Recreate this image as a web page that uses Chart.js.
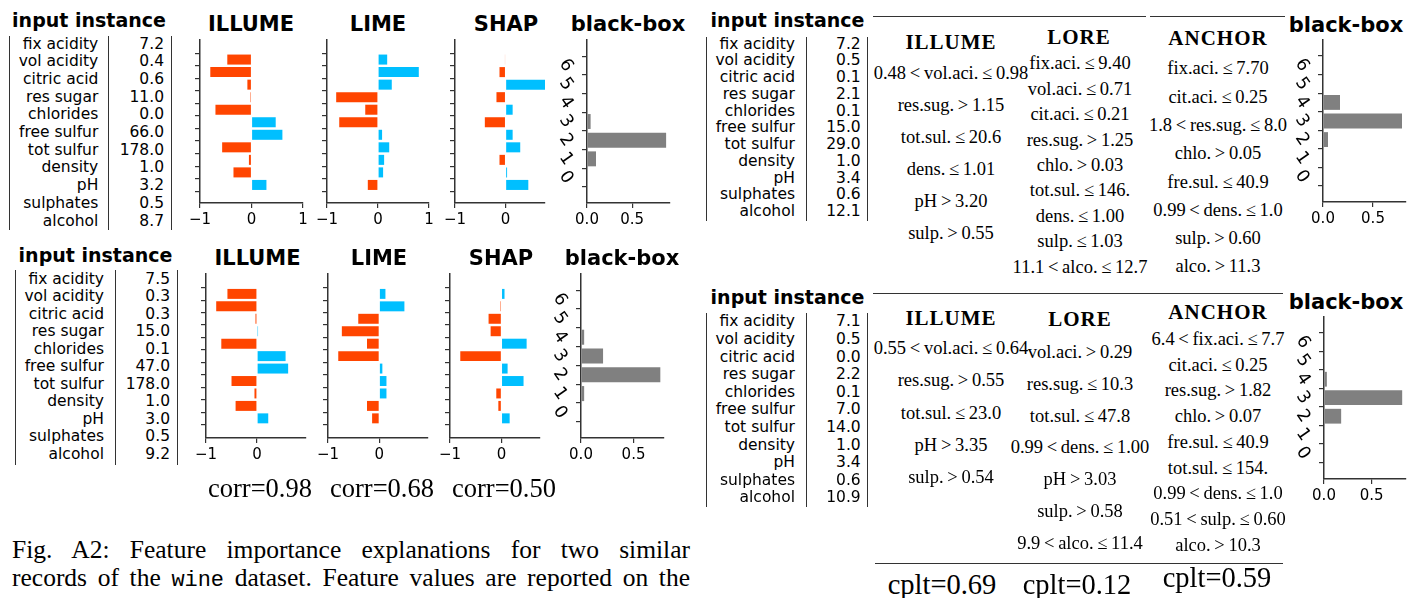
<!DOCTYPE html>
<html><head><meta charset="utf-8">
<script src="https://cdn.jsdelivr.net/npm/chart.js@4.4.1/dist/chart.umd.min.js"></script>
<style>
html,body{margin:0;padding:0;background:#fff;}
#fig{position:relative;width:1408px;height:598px;overflow:hidden;background:#fff;}
.t{position:absolute;white-space:nowrap;line-height:1;}
.c{transform:translate(-50%,-50%);}
.rt{transform:translate(-100%,-50%);}
.lt{transform:translate(0,-50%);}
.sans{font-family:'DejaVu Sans',sans-serif;color:#000;}
.title{font-weight:bold;font-size:21px;}
.itit{font-weight:bold;font-size:19px;}
.cell{font-size:15.5px;}
.serif{font-family:'Liberation Serif','Times New Roman',serif;color:#000;}
.rule{font-size:18.5px;}
.hdr{font-weight:bold;font-size:21px;letter-spacing:1px;}
.score{font-size:26.5px;}
.cpl{font-size:28.5px;}
.r{margin:0 0.2em;}
.cap{font-size:25.5px;width:678px;text-align:justify;text-align-last:justify;white-space:normal;}
.mono{font-family:'Liberation Mono',monospace;font-size:0.86em;}
.vl{position:absolute;width:0;border-left:1.6px solid #333;}
.hl{position:absolute;height:0;border-top:1.5px solid #333;}
canvas{position:absolute;}
</style></head>
<body><div id="fig"></div>
<script>
// ---------------- data ----------------
const features = ['fix acidity','vol acidity','citric acid','res sugar','chlorides','free sulfur','tot sulfur','density','pH','sulphates','alcohol'];
const instanceA = ['7.2','0.4','0.6','11.0','0.0','66.0','178.0','1.0','3.2','0.5','8.7'];
const instanceB = ['7.5','0.3','0.3','15.0','0.1','47.0','178.0','1.0','3.0','0.5','9.2'];
const instanceC = ['7.2','0.5','0.1','2.1','0.1','15.0','29.0','1.0','3.4','0.6','12.1'];
const instanceD = ['7.1','0.5','0.0','2.2','0.1','7.0','14.0','1.0','3.4','0.6','10.9'];

const illumeA = [-0.47,-0.80,-0.08,-0.02,-0.70,0.47,0.60,-0.57,-0.05,-0.35,0.29];
const limeA   = [0.18,0.80,0.27,-0.82,-0.25,-0.76,0.08,0.22,0.12,0.10,-0.20];
const shapA   = [-0.01,-0.12,0.78,-0.18,0.14,-0.41,0.14,0.29,-0.12,0.03,0.45];
const illumeB = [-0.58,-0.80,-0.03,0.02,-0.70,0.56,0.61,-0.50,-0.05,-0.42,0.22];
const limeB   = [0.12,0.49,-0.41,-0.73,-0.24,-0.80,0.06,0.14,0.14,-0.24,-0.14];
const shapB   = [0.06,-0.02,-0.25,-0.21,0.49,-0.80,0.12,0.43,-0.10,-0.06,0.16];

const classes = [0,1,2,3,4,5,6];
const bbA = [0,0.10,0.877,0.04,0,0,0];
const bbB = [0,0.03,0.755,0.21,0.03,0,0];
const bbC = [0,0,0.05,0.79,0.17,0,0];
const bbD = [0,0,0.18,0.82,0.03,0,0];

const featTicks = [-1,0,1];
const bbTicks = [0,0.5];
const fiMethods = ['ILLUME','LIME','SHAP','black-box'];
const ruleMethods = ['ILLUME','LORE','ANCHOR'];
const corrLabels = ['corr=0.98','corr=0.68','corr=0.50'];
const cpltLabels = ['cplt=0.69','cplt=0.12','cplt=0.59'];

const illumeRulesC = ['0.48<vol.aci.≤0.98','res.sug.>1.15','tot.sul.≤20.6','dens.≤1.01','pH>3.20','sulp.>0.55'];
const loreRulesC   = ['fix.aci.≤9.40','vol.aci.≤0.71','cit.aci.≤0.21','res.sug.>1.25','chlo.>0.03','tot.sul.≤146.','dens.≤1.00','sulp.≤1.03','11.1<alco.≤12.7'];
const anchorRulesC = ['fix.aci.≤7.70','cit.aci.≤0.25','1.8<res.sug.≤8.0','chlo.>0.05','fre.sul.≤40.9','0.99<dens.≤1.0','sulp.>0.60','alco.>11.3'];
const illumeRulesD = ['0.55<vol.aci.≤0.64','res.sug.>0.55','tot.sul.≤23.0','pH>3.35','sulp.>0.54'];
const loreRulesD   = ['vol.aci.>0.29','res.sug.≤10.3','tot.sul.≤47.8','0.99<dens.≤1.00','pH>3.03','sulp.>0.58','9.9<alco.≤11.4'];
const anchorRulesD = ['6.4<fix.aci.≤7.7','cit.aci.≤0.25','res.sug.>1.82','chlo.>0.07','fre.sul.≤40.9','tot.sul.≤154.','0.99<dens.≤1.0','0.51<sulp.≤0.60','alco.>10.3'];

// ---------------- helpers ----------------
const fig = document.getElementById('fig');
const ORANGE='#FF4500', BLUE='#00BFFF', GRAY='#808080', AX='#333333';
Chart.defaults.font.family = "'DejaVu Sans', sans-serif";
Chart.defaults.color = '#000';

function txt(x,y,s,cls,align){
  const d=document.createElement('div');
  d.className='t '+cls+' '+(align||'c');
  d.style.left=x+'px'; d.style.top=y+'px';
  d.textContent=s; fig.appendChild(d); return d;
}
function ruleTxt(x,y,s){
  const d=document.createElement('div');
  d.className='t serif rule c';
  d.style.left=x+'px'; d.style.top=y+'px';
  s.split(/(<|>|≤)/).forEach(p=>{
    if(!p) return;
    if(p==='<'||p==='>'||p==='≤'){ const sp=document.createElement('span'); sp.className='r'; sp.textContent=p; d.appendChild(sp); }
    else d.appendChild(document.createTextNode(p));
  });
  fig.appendChild(d);
}
function vline(x,y0,y1){ const d=document.createElement('div'); d.className='vl'; d.style.left=x+'px'; d.style.top=y0+'px'; d.style.height=(y1-y0)+'px'; fig.appendChild(d); }
function hline(x0,x1,y){ const d=document.createElement('div'); d.className='hl'; d.style.left=x0+'px'; d.style.top=y+'px'; d.style.width=(x1-x0)+'px'; fig.appendChild(d); }

function fmtSigned(v){ return v<0 ? '\u2212'+Math.abs(v) : String(v); }
function axisStyle(){ return { grid:{display:true,drawOnChartArea:false,drawTicks:true,tickLength:5,color:AX,lineWidth:1.2}, border:{display:true,color:AX,width:1.5} }; }

// rotated class labels for the black-box y axis, placed at the scale's own tick pixels
const rotLabels = {
  id:'rotLabels',
  afterDraw(chart){
    const s=chart.scales.y, ctx=chart.ctx;
    ctx.save();
    ctx.font='17.5px "DejaVu Sans"'; ctx.fillStyle='#000';
    ctx.textAlign='center'; ctx.textBaseline='middle';
    s.ticks.forEach(t=>{
      const y=s.getPixelForValue(t.value);
      ctx.save(); ctx.translate(chart.chartArea.left-21, y); ctx.rotate(55*Math.PI/180);
      ctx.fillText(String(t.value),0,0); ctx.restore();
    });
    ctx.restore();
  }
};

function mkCanvas(W,H){
  const cv=document.createElement('canvas');
  cv.width=Math.round(W); cv.height=Math.round(H);
  cv.style.width=Math.round(W)+'px'; cv.style.height=Math.round(H)+'px';
  cv.style.left='0px'; cv.style.top='0px';
  fig.appendChild(cv); return cv;
}
function placeChart(area,cfgFn){
  let W=area.w+120, H=area.h+80;
  let cv=mkCanvas(W,H);
  let ch=new Chart(cv,cfgFn());
  const ca=ch.chartArea;
  W += area.w-(ca.right-ca.left);
  H += area.h-(ca.bottom-ca.top);
  ch.destroy(); cv.remove();
  cv=mkCanvas(W,H);
  ch=new Chart(cv,cfgFn());
  const cb=ch.chartArea;
  cv.style.left=(area.x-cb.left)+'px';
  cv.style.top=(area.y-cb.top)+'px';
}
function baseOpts(){
  return { indexAxis:'y', responsive:false, maintainAspectRatio:false, animation:false, events:[],
    layout:{padding:{left:34,right:22,top:6,bottom:6}},
    plugins:{legend:{display:false},tooltip:{enabled:false}} };
}
function featCfg(vals,xmax,ymin,ymax){
  return ()=>{
    const o=baseOpts();
    o.scales={
      x:Object.assign({type:'linear',min:-1,max:xmax,
        afterBuildTicks:s=>{s.ticks=featTicks.filter(v=>v<=xmax+1e-9).map(v=>({value:v}));},
        ticks:{callback:v=>fmtSigned(v),font:{size:15},color:'#000',padding:3,maxRotation:0,minRotation:0,autoSkip:false}},axisStyle()),
      y:Object.assign({type:'linear',reverse:true,min:ymin,max:ymax,
        afterBuildTicks:s=>{s.ticks=vals.map((_,i)=>({value:i}));},
        ticks:{display:false}},axisStyle())
    };
    return {type:'bar',data:{datasets:[{data:vals.map((v,i)=>({x:v,y:i})),
      backgroundColor:vals.map(v=>v<0?ORANGE:BLUE),categoryPercentage:0.8,barPercentage:1,borderWidth:0}]},options:o};
  };
}
function bbCfg(vals,xmax,ymin,ymax){
  return ()=>{
    const o=baseOpts();
    o.scales={
      x:Object.assign({type:'linear',min:0,max:xmax,
        afterBuildTicks:s=>{s.ticks=bbTicks.map(v=>({value:v}));},
        ticks:{callback:v=>v.toFixed(1),font:{size:15},color:'#000',padding:3,maxRotation:0,minRotation:0,autoSkip:false}},axisStyle()),
      y:Object.assign({type:'linear',min:ymin,max:ymax,
        afterBuildTicks:s=>{s.ticks=classes.map(v=>({value:v}));},
        ticks:{display:false}},axisStyle())
    };
    return {type:'bar',data:{datasets:[{data:vals.map((v,i)=>({x:v,y:classes[i]})),
      backgroundColor:GRAY,categoryPercentage:0.8,barPercentage:1,borderWidth:0}]},options:o,plugins:[rotLabels]};
  };
}

// ---------------- layout ----------------
function table(names,vals,lx,y0,y1,nameR,valR,firstY,step){
  lx.forEach(x=>vline(x,y0,y1));
  names.forEach((n,i)=>{ txt(nameR,firstY+i*step,n,'sans cell','rt'); txt(valR,firstY+i*step,vals[i],'sans cell','rt'); });
}

// top-left block
txt(89,20,'input instance','sans itit');
table(features,instanceA,[9,108.3,170.7],36,230,98.3,164,44.8,17.67);
txt(251,24,fiMethods[0],'sans title'); txt(378,24,fiMethods[1],'sans title');
txt(506,24,fiMethods[2],'sans title'); txt(628,24,fiMethods[3],'sans title');
placeChart({x:200,y:40,w:102.3,h:162.3},featCfg(illumeA,1,-0.97,10.85));
placeChart({x:327.3,y:40,w:102.7,h:162.3},featCfg(limeA,1,-0.97,10.85));
placeChart({x:455,y:40,w:90.7,h:162.3},featCfg(shapA,0.78,-0.97,10.85));
placeChart({x:587,y:40,w:82.3,h:162.3},bbCfg(bbA,0.92,-0.74,6.74));

// bottom-left block
txt(95.5,255,'input instance','sans itit');
table(features,instanceB,[15,115,176.7],270,465,104,170,279.8,17.5);
txt(257.5,258,fiMethods[0],'sans title'); txt(379,258,fiMethods[1],'sans title');
txt(501,258,fiMethods[2],'sans title'); txt(622,258,fiMethods[3],'sans title');
placeChart({x:205.7,y:273.5,w:100,h:164.2},featCfg(illumeB,0.96,-1.0,10.98));
placeChart({x:328,y:274.3,w:99.3,h:163.4},featCfg(limeB,0.95,-1.0,10.98));
placeChart({x:450,y:274.3,w:89.3,h:163.4},featCfg(shapB,0.75,-1.0,10.98));
placeChart({x:581,y:274.3,w:82.3,h:163.4},bbCfg(bbB,0.79,-0.74,6.74));
txt(260,488,corrLabels[0],'serif score'); txt(382,488,corrLabels[1],'serif score'); txt(504,488,corrLabels[2],'serif score');

// caption
(function(){
  const l1=document.createElement('div'); l1.className='t serif cap lt'; l1.style.left='12px'; l1.style.top='550px';
  l1.textContent='Fig. A2: Feature importance explanations for two similar'; fig.appendChild(l1);
  const l2=document.createElement('div'); l2.className='t serif cap lt'; l2.style.left='12px'; l2.style.top='578px';
  l2.appendChild(document.createTextNode('records of the '));
  const m=document.createElement('span'); m.className='mono'; m.textContent='wine'; l2.appendChild(m);
  l2.appendChild(document.createTextNode(' dataset. Feature values are reported on the'));
  fig.appendChild(l2);
})();

// top-right block
txt(787.5,20,'input instance','sans itit');
table(features,instanceC,[706,805.7,867.3],36.7,220.7,795,860.7,44.5,16.77);
hline(873,1146,16); hline(1150,1285,16);
txt(951,41.7,ruleMethods[0],'serif hdr'); txt(1079,36.7,ruleMethods[1],'serif hdr'); txt(1218,38.3,ruleMethods[2],'serif hdr');
illumeRulesC.forEach((s,i)=>ruleTxt(951,73.3+i*32,s));
loreRulesC.forEach((s,i)=>ruleTxt(1080,63.3+i*25.4,s));
anchorRulesC.forEach((s,i)=>ruleTxt(1218,68.3+i*28.3,s));
txt(1346,25,'black-box','sans title');
placeChart({x:1323.3,y:40,w:83,h:162},bbCfg(bbC,0.83,-0.74,6.74));

// bottom-right block
txt(787.5,297,'input instance','sans itit');
table(features,instanceD,[706,805.7,867.3],312.7,506.7,795,860.7,322.3,17.6);
hline(873,1283,293.3); hline(875,1283,563.3);
txt(951,318.3,ruleMethods[0],'serif hdr'); txt(1080,319.3,ruleMethods[1],'serif hdr'); txt(1218,312.3,ruleMethods[2],'serif hdr');
illumeRulesD.forEach((s,i)=>ruleTxt(951,348.3+i*32.1,s));
loreRulesD.forEach((s,i)=>ruleTxt(1080,352+i*31.8,s));
anchorRulesD.forEach((s,i)=>ruleTxt(1218,339+i*25.7,s));
txt(942,585,cpltLabels[0],'serif cpl'); txt(1077,585,cpltLabels[1],'serif cpl'); txt(1217,578,cpltLabels[2],'serif cpl');
txt(1346,301.7,'black-box','sans title');
placeChart({x:1323.7,y:317.3,w:82.6,h:162.7},bbCfg(bbD,0.86,-0.77,6.74));
</script>
</body></html>
